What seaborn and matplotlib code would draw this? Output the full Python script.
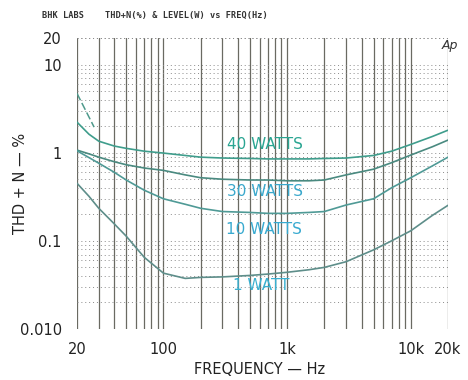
import numpy as np
import pandas as pd
import matplotlib
matplotlib.use("Agg")
import matplotlib.pyplot as plt
import seaborn as sns

freq = [20, 25, 30, 40, 50, 70, 100, 150, 200, 300, 500, 700, 1000,
        1500, 2000, 3000, 5000, 7000, 10000, 15000, 20000]
thd_40w = [2.22, 1.62, 1.35, 1.19, 1.12, 1.04, 0.99, 0.93, 0.89, 0.87, 0.86,
           0.85, 0.85, 0.85, 0.86, 0.87, 0.93, 1.04, 1.24, 1.53, 1.80]
thd_30w = [1.07, 0.97, 0.89, 0.79, 0.73, 0.67, 0.63, 0.56, 0.52, 0.50, 0.49,
           0.49, 0.48, 0.48, 0.49, 0.56, 0.65, 0.77, 0.94, 1.17, 1.39]
thd_10w = [1.05, 0.88, 0.76, 0.60, 0.49, 0.375, 0.30, 0.26, 0.234, 0.215, 0.21,
           0.205, 0.205, 0.21, 0.215, 0.255, 0.30, 0.40, 0.52, 0.71, 0.89]
thd_1w = [0.45, 0.32, 0.234, 0.156, 0.113, 0.065, 0.043, 0.0375, 0.0385, 0.039,
          0.0405, 0.042, 0.044, 0.047, 0.050, 0.058, 0.079, 0.100, 0.13, 0.195, 0.253]
dash_freq = [20, 27.5]
dash_thd = [4.7, 1.95]

series = ["40 WATTS", "30 WATTS", "10 WATTS", "1 WATT"]
df = pd.concat([
    pd.DataFrame({"freq": freq, "thd": v, "level": s})
    for s, v in zip(series, [thd_40w, thd_30w, thd_10w, thd_1w])
])

sns.set_style("white")
plt.rcParams["font.family"] = ["DejaVu Sans"]

fig = plt.figure(figsize=(4.68, 3.8), dpi=100)
ax = fig.add_axes([77 / 468, 1 - 329 / 380, (448 - 77) / 468, (329 - 38) / 380])
ax.set_xscale("log")
ax.set_yscale("log")
ax.set_xlim(20, 20000)
ax.set_ylim(0.01, 20)

# grid
xgrid = [m * 10 ** e for e in range(1, 5) for m in range(1, 10)]
xgrid = [g for g in xgrid if 20 <= g <= 20000]
for g in xgrid:
    ax.axvline(g, color="#6a6a62", lw=0.9, zorder=1)
ygrid = [m * 10 ** e for e in range(-2, 2) for m in range(1, 10)] + [20]
for g in ygrid:
    if 0.01 <= g <= 20:
        ax.axhline(g, color="#8a8a8a", lw=0.7, ls=(0, (1, 3)), zorder=1)

palette = {"40 WATTS": "#3f9d8c", "30 WATTS": "#4a8a80",
           "10 WATTS": "#4f9a96", "1 WATT": "#5e8e8a"}
sns.lineplot(data=df, x="freq", y="thd", hue="level", palette=palette,
             lw=1.2, legend=False, ax=ax, zorder=3)
sns.lineplot(x=dash_freq, y=dash_thd, color="#4f9a8c", lw=1.1,
             ax=ax, zorder=3, linestyle=(0, (5, 2)))

for s in ax.spines.values():
    s.set_visible(False)

ax.set_xticks([20, 100, 1000, 10000, 20000])
ax.set_xticklabels(["20", "100", "1k", "10k", "20k"])
ax.set_yticks([0.01, 0.1, 1, 10, 20])
ax.set_yticklabels(["0.010", "0.1", "1", "10", "20"])
ax.minorticks_off()
ax.tick_params(axis="both", length=0, labelsize=10.5, colors="#222222")
ax.tick_params(axis="x", pad=9)
ax.tick_params(axis="y", pad=11)
ax.set_xlabel("FREQUENCY — Hz", fontsize=10.5, color="#222222")
ax.set_ylabel("THD + N — %", fontsize=10.5, color="#222222")
ax.xaxis.set_label_coords((260 - 77) / 371, (329 - 370) / 291)
ax.yaxis.set_label_coords((20 - 77) / 371, (329 - 183) / 291)
ax.xaxis.label.set_va("center")
ax.yaxis.label.set_va("center")

# curve labels
lab_kw = dict(fontsize=11, ha="center", va="center", zorder=5)
ax.text(265 / 468, 1 - 144 / 380, "40 WATTS", color="#2aa592", transform=fig.transFigure, **lab_kw)
ax.text(265 / 468, 1 - 191 / 380, "30 WATTS", color="#3aa8cc", transform=fig.transFigure, **lab_kw)
ax.text(264 / 468, 1 - 229 / 380, "10 WATTS", color="#38aad0", transform=fig.transFigure, **lab_kw)
ax.text(261 / 468, 1 - 286 / 380, "1 WATT", color="#3ab0d0", transform=fig.transFigure, **lab_kw)

fig.text(42 / 468, 1 - 15 / 380, "BHK LABS    THD+N(%) & LEVEL(W) vs FREQ(Hz)",
         fontsize=6.2, family="DejaVu Sans Mono", weight="bold", color="#333333",
         ha="left", va="center")
fig.text(450 / 468, 1 - 46 / 380, "Ap", fontsize=9, style="italic", color="#333333",
         ha="center", va="center")

fig.savefig("out.png", dpi=100, facecolor="white")
